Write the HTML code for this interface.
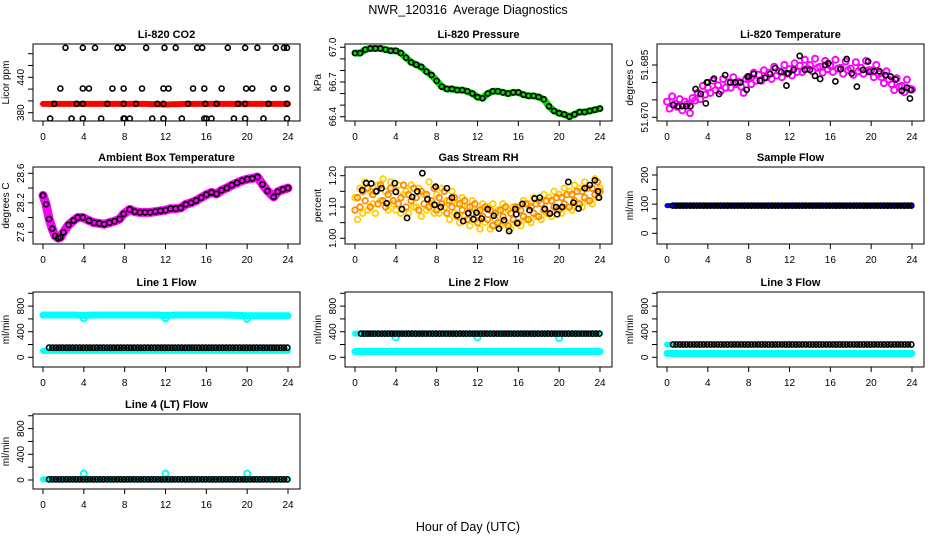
<!DOCTYPE html>
<html><head><meta charset="utf-8"><title>NWR_120316 Average Diagnostics</title>
<style>
html,body{margin:0;padding:0;background:#fff;}
svg{display:block;font-family:"Liberation Sans",Arial,sans-serif;}
</style></head>
<body>
<svg id="chart" width="936" height="540" viewBox="0 0 936 540" xmlns="http://www.w3.org/2000/svg">
<rect x="0" y="0" width="936" height="540" fill="#fff"/>
<text x="468" y="14" text-anchor="middle" font-size="12.5" style="white-space:pre">NWR_120316&#160; Average Diagnostics</text>
<text x="468" y="531" text-anchor="middle" font-size="12.5">Hour of Day (UTC)</text>
</svg>
<script>
// ---------- DATA ----------
const xTicks = [0,4,8,12,16,20,24];
// CO2
const co2Hours = [0.7,2.8,3.9,5.7,7.9,8.0,8.5,10.7,11.8,13.6,15.8,16.0,16.5,18.7,19.8,21.6,23.9,
  1.7,3.9,4.5,6.8,7.9,9.7,11.8,12.3,14.7,15.8,17.5,19.9,20.5,22.6,23.9,
  1.1,3.3,3.9,6.3,7.9,9.1,11.2,11.8,14.2,15.9,17.0,19.1,19.8,22.1,23.9,
  2.2,3.9,5.1,7.3,7.8,10.1,11.9,13.0,15.1,15.6,18.1,19.8,21.0,22.8,23.6,23.9];
const co2Vals = [370,370,370,370,370,370,370,370,370,370,370,370,370,370,370,370,370,
  421,421,421,421,421,421,421,421,421,421,421,421,421,421,421,
  395,395,395,395,395,395,395,395,395,395,395,395,395,395,395,
  490,490,490,490,490,490,490,490,490,490,490,490,490,490,490,490];
const co2RedHours = [0,2,4,6,8,10,12,14,16,18,20,22,24];
const co2RedVals = [395,395,395,395,395,395,394,395,395,395,395,395,395];
// Pressure
const presHours = [0,0.5,1,1.5,2,2.5,3,3.5,4,4.5,5,5.5,6,6.5,7,7.5,8,8.5,9,9.5,10,10.5,11,11.5,12,12.5,13,13.5,14,14.5,15,15.5,16,16.5,17,17.5,18,18.5,19,19.5,20,20.5,21,21.5,22,22.5,23,23.5,24];
const presVals = [66.95,66.95,66.98,66.99,66.99,66.99,66.98,66.97,66.97,66.95,66.91,66.87,66.85,66.83,66.79,66.76,66.71,66.66,66.64,66.64,66.63,66.63,66.62,66.60,66.57,66.56,66.60,66.62,66.62,66.61,66.60,66.61,66.61,66.59,66.58,66.58,66.57,66.55,66.49,66.45,66.43,66.42,66.40,66.42,66.44,66.44,66.45,66.46,66.47];
// Li-820 temperature
const tempCloudHours = [0,0.25,0.5,0.75,1,1.25,1.5,1.75,2,2.25,2.5,2.75,3,3.25,3.5,3.75,4,4.25,4.5,4.75,5,5.25,5.5,5.75,6,6.25,6.5,6.75,7,7.25,7.5,7.75,8,8.25,8.5,8.75,9,9.25,9.5,9.75,10,10.25,10.5,10.75,11,11.25,11.5,11.75,12,12.25,12.5,12.75,13,13.25,13.5,13.75,14,14.25,14.5,14.75,15,15.25,15.5,15.75,16,16.25,16.5,16.75,17,17.25,17.5,17.75,18,18.25,18.5,18.75,19,19.25,19.5,19.75,20,20.25,20.5,20.75,21,21.25,21.5,21.75,22,22.25,22.5,22.75,23,23.25,23.5,23.75,24];
const tempCloudVals = [51.6745,51.6725,51.6760,51.6738,51.6730,51.6752,51.6720,51.6745,51.6738,51.6712,51.6755,51.6748,
 51.6770,51.6752,51.6790,51.6765,51.6785,51.6770,51.6805,51.6778,51.6792,51.6775,51.6810,51.6785,
 51.6800,51.6785,51.6815,51.6795,51.6802,51.6788,51.6770,51.6810,51.6812,51.6795,51.6828,51.6805,
 51.6822,51.6805,51.6835,51.6815,51.6828,51.6810,51.6845,51.6820,51.6832,51.6815,51.6850,51.6825,
 51.6838,51.6820,51.6855,51.6830,51.6848,51.6830,51.6865,51.6840,51.6850,51.6832,51.6868,51.6842,
 51.6845,51.6828,51.6862,51.6838,51.6848,51.6830,51.6865,51.6840,51.6842,51.6825,51.6860,51.6835,
 51.6840,51.6822,51.6858,51.6832,51.6842,51.6825,51.6862,51.6835,51.6835,51.6815,51.6850,51.6825,
 51.6815,51.6798,51.6832,51.6808,51.6795,51.6778,51.6812,51.6788,51.6790,51.6772,51.6808,51.6782,51.6780];
const tempHours = [0.6,1.1,1.5,1.9,2.3,2.8,3.3,3.8,3.9,4.0,4.6,5.1,5.7,6.2,6.7,7.2,7.8,7.9,8.0,8.5,9.1,9.6,10.1,10.6,11.2,11.7,11.8,11.9,12.4,13.0,13.5,14.0,14.5,15.0,15.5,15.8,16.5,17.0,17.6,18.1,18.6,19.2,19.7,19.8,20.3,20.8,21.4,21.9,22.4,23.0,23.5,23.8,23.9];
const tempVals = [51.6735,51.6732,51.6732,51.6732,51.6732,51.6781,51.6767,51.6740,51.6800,51.6800,51.6811,51.6767,51.6821,51.6800,51.6800,51.6800,51.6779,51.6817,51.6817,51.6824,51.6805,51.6813,51.6824,51.6841,51.6830,51.6791,51.6826,51.6826,51.6836,51.6876,51.6836,51.6836,51.6819,51.6810,51.6850,51.6855,51.6803,51.6838,51.6867,51.6826,51.6788,51.6836,51.6860,51.6830,51.6832,51.6832,51.6821,51.6817,51.6808,51.6776,51.6785,51.6754,51.6778];
// Ambient box temperature
const ambHours = [0,0.3,0.6,0.9,1.2,1.5,1.7,2.0,2.5,3.0,3.4,3.9,4.5,5.0,5.5,6.0,6.5,7.0,7.5,7.9,8.5,9.0,9.5,10.0,10.5,11.0,11.5,12.0,12.5,13.0,13.5,14.0,14.5,15.0,15.5,16.0,16.5,17.0,17.5,18.0,18.5,19.0,19.5,20.0,20.5,21.0,21.5,22.0,22.6,23.0,23.5,24.0];
const ambVals = [28.30,28.18,27.98,27.85,27.75,27.72,27.73,27.80,27.90,27.96,28.00,28.00,27.96,27.93,27.92,27.91,27.93,27.95,27.98,28.05,28.11,28.08,28.07,28.07,28.07,28.08,28.09,28.10,28.12,28.12,28.13,28.18,28.20,28.23,28.27,28.31,28.34,28.32,28.37,28.40,28.44,28.47,28.50,28.52,28.53,28.55,28.45,28.36,28.28,28.35,28.38,28.40];
// Gas stream RH
const rhCloudVals = [1.09,1.13,1.10,1.15,1.12,1.16,1.10,1.14,1.15,1.11,1.17,1.12,1.10,1.14,1.16,1.12,1.15,1.11,1.13,1.17,1.10,1.14,1.12,1.16,1.13,1.09,1.15,1.11,1.14,1.10,1.12,1.16,1.09,1.13,1.11,1.15,1.08,1.12,1.10,1.13,1.07,1.11,1.09,1.12,1.06,1.10,1.08,1.11,1.05,1.09,1.07,1.10,1.06,1.09,1.04,1.08,1.05,1.09,1.07,1.10,1.04,1.08,1.06,1.10,1.05,1.09,1.07,1.11,1.06,1.10,1.08,1.11,1.07,1.11,1.09,1.12,1.08,1.12,1.10,1.13,1.09,1.13,1.11,1.14,1.10,1.14,1.12,1.15,1.11,1.15,1.13,1.16,1.12,1.16,1.14,1.18,1.15];
const rhCloudVals2 = [1.13,1.06,1.16,1.08,1.18,1.09,1.15,1.11,1.08,1.17,1.12,1.19,1.15,1.09,1.18,1.11,1.09,1.17,1.08,1.14,1.15,1.08,1.17,1.10,1.10,1.16,1.07,1.14,1.09,1.18,1.11,1.08,1.14,1.08,1.16,1.10,1.12,1.06,1.15,1.08,1.11,1.05,1.13,1.07,1.10,1.04,1.12,1.06,1.09,1.03,1.11,1.05,1.10,1.03,1.11,1.06,1.09,1.04,1.11,1.05,1.09,1.03,1.10,1.05,1.10,1.04,1.12,1.06,1.11,1.05,1.13,1.07,1.12,1.06,1.14,1.08,1.13,1.07,1.15,1.09,1.14,1.08,1.16,1.10,1.15,1.09,1.17,1.11,1.16,1.10,1.18,1.12,1.17,1.11,1.19,1.13,1.16];
const rhHours = [0.7,1.1,1.6,2.1,2.6,3.1,3.9,4.0,4.6,5.1,5.6,6.1,6.6,7.1,7.8,7.9,8.4,9.0,9.5,10.0,10.6,11.1,11.6,11.9,12.4,13.0,13.6,14.1,14.6,15.1,15.7,15.8,15.9,16.4,17.1,17.6,18.1,18.6,19.1,19.7,19.8,20.3,20.9,21.4,21.9,22.5,23.0,23.5,23.8,23.9];
const rhVals = [1.154,1.176,1.175,1.150,1.160,1.112,1.176,1.148,1.093,1.065,1.132,1.150,1.208,1.125,1.107,1.165,1.100,1.160,1.130,1.074,1.055,1.080,1.061,1.082,1.063,1.093,1.072,1.031,1.058,1.023,1.093,1.077,1.048,1.110,1.090,1.127,1.130,1.094,1.079,1.100,1.077,1.100,1.180,1.114,1.095,1.160,1.170,1.185,1.150,1.130];
// Flows (hourly values)
const flowHours = [0,1,2,3,4,5,6,7,8,9,10,11,12,13,14,15,16,17,18,19,20,21,22,23,24];
const sampleBlue  = [95,95,95,95,96,95,95,95,95,95,95,95,95,95,95,95,95,95,95,95,95,95,95,95,95];
const sampleBlack = [95,95,95,95,95,95,95,95,95,95,95,95,95,95,95,95,95,95,95,95,95,95,95,95,95];
const line1CyanHi = [660,660,660,660,655,660,660,660,660,660,660,660,655,660,660,660,660,660,660,655,650,650,650,650,650];
const line1CyanLo = [100,100,100,100,100,100,100,100,100,100,100,100,100,100,100,100,100,100,100,100,100,100,100,100,100];
const line1Black  = [150,150,150,150,150,150,150,150,150,150,150,150,150,150,150,150,150,150,150,150,150,150,150,150,150];
const line2CyanHi = [370,370,370,370,370,370,370,370,370,370,370,370,370,370,370,370,370,370,370,370,370,370,370,370,370];
const line2CyanLo = [90,90,90,90,90,90,90,90,90,90,90,90,90,90,90,90,90,90,90,90,90,90,90,90,90];
const line2Black  = [370,370,370,370,370,370,370,370,370,370,370,370,370,370,370,370,370,370,370,370,370,370,370,370,370];
const line3CyanLo = [60,60,60,60,60,60,60,60,60,60,60,60,60,60,60,60,60,60,60,60,60,60,60,60,60];
const line3CyanStartHours = [0,0.3];
const line3CyanStart = [200,200];
const line3Black  = [200,200,200,200,200,200,200,200,200,200,200,200,200,200,200,200,200,200,200,200,200,200,200,200,200];
const line4Cyan   = [10,10,10,10,10,10,10,10,10,10,10,10,10,10,10,10,10,10,10,10,10,10,10,10,10];
const line4Black  = [10,10,10,10,10,10,10,10,10,10,10,10,10,10,10,10,10,10,10,10,10,10,10,10,10];
const dipHours = [4,12,20];
const line1Dips = [610,610,600];
const line2Dips = [310,310,300];
const line4Spikes = [100,100,100];

// ---------- RENDER ----------
const NS = "http://www.w3.org/2000/svg";
const svg = document.getElementById('chart');
function mk(tag, attrs, parent){ const e=document.createElementNS(NS,tag); for(const k in attrs) e.setAttribute(k,attrs[k]); (parent||svg).appendChild(e); return e; }

function panel(o){
  const g = mk('g',{});
  
  
  const W=267, H=o.B-o.T;
  const xs = h => o.L + 10 + h*245/24;
  const ys = v => o.p0 + (v-o.v0)*(o.p1-o.p0)/(o.v1-o.v0);
  const t = mk('text',{x:o.L+W/2, y:o.T-6, 'text-anchor':'middle','font-size':11,'font-weight':'bold'},g);
  t.textContent = o.title;
  
  
  const yl = mk('text',{x:0,y:0,'text-anchor':'middle','font-size':10,transform:`translate(${o.L-24},${(o.T+o.B)/2}) rotate(-90)`},g);
  yl.textContent = o.ylab;
  
  
  xTicks.forEach(h=>{
    mk('line',{x1:xs(h),x2:xs(h),y1:o.B,y2:o.B+5,stroke:'#000'},g);
    const tx = mk('text',{x:xs(h),y:o.B+19,'text-anchor':'middle','font-size':10},g);
    tx.textContent = h;
    
    
  });
  o.ticks.forEach(v=>{
    mk('line',{x1:o.L-5,x2:o.L,y1:ys(v),y2:ys(v),stroke:'#000'},g);
  });
  o.labels.forEach(v=>{
    const ty = mk('text',{x:0,y:0,'text-anchor':'middle','font-size':10,transform:`translate(${o.L-9},${ys(v)}) rotate(-90)`},g);
    ty.textContent = o.fmt ? o.fmt(v) : v;
    
    
  });
  const clip = 'c'+o.name;
  const cp = mk('clipPath',{id:clip},g); mk('rect',{x:o.L,y:o.T,width:W,height:H},cp);
  const plot = mk('g',{'clip-path':`url(#${clip})`},g);
  
  
  o.draw(plot, xs, ys);
  const box = mk('rect',{x:o.L,y:o.T,width:W,height:H,fill:'none',stroke:'#000'},g);
  
  
}
function dots(p, xs, ys, hours, vals, color, r, sw, name){
  hours.forEach((h,i)=>{
    const c = mk('circle',{cx:xs(h),cy:ys(vals[i]),r:r,fill:'none',stroke:color,'stroke-width':sw},p);
    
    
  });
}
function band(p, xs, ys, hours, vals, color, w, name){
  const pts = hours.map((h,i)=>xs(h)+','+ys(vals[i])).join(' ');
  const l = mk('polyline',{points:pts,fill:'none',stroke:color,'stroke-width':w,'stroke-linejoin':'round','stroke-linecap':'round'},p);
  
  
}
function flowDots(p, xs, ys, vals, color, name){
  flowHours.forEach((h,i)=>{
    [0.6,0.93,1.27].forEach(off=>{
      const hh = h - 1 + off;
      if (hh < 0.5 || hh > 24) return;
      const c = mk('circle',{cx:xs(hh),cy:ys(vals[i]),r:2.6,fill:'none',stroke:color,'stroke-width':1.6},p);
      
      
    });
  });
}

const cols=[33,345,657];
const rows=[[44,121],[167,244],[292,367],[414,489]];
const flowTicks=[0,200,400,600,800,1000], flowLabels=[0,400,800];

panel({name:'co2-panel',title:'Li-820 CO2',ylab:'Licor ppm',L:cols[0],T:rows[0][0],B:rows[0][1],
  v0:380,p0:112.7,v1:440,p1:77.3,ticks:[380,400,420,440,460,480],labels:[380,440],
  draw:(p,xs,ys)=>{ band(p,xs,ys,co2RedHours,co2RedVals,'#ff0000',6,'co2-red-series');
    dots(p,xs,ys,co2Hours,co2Vals,'#000',2.5,1.6,'co2-black-point'); }});
panel({name:'pressure-panel',title:'Li-820 Pressure',ylab:'kPa',L:cols[1],T:rows[0][0],B:rows[0][1],
  v0:66.4,p0:116.7,v1:67.0,p1:47.3,ticks:[66.4,66.5,66.6,66.7,66.8,66.9,67.0],labels:[66.4,66.7,67.0],fmt:v=>v.toFixed(1),
  draw:(p,xs,ys)=>{ band(p,xs,ys,presHours,presVals,'#00dd00',7,'pressure-green-series');
    dots(p,xs,ys,presHours,presVals,'#000',2.5,1.6,'pressure-black-point'); }});
panel({name:'li820-temp-panel',title:'Li-820 Temperature',ylab:'degrees C',L:cols[2],T:rows[0][0],B:rows[0][1],
  v0:51.670,p0:117.3,v1:51.685,p1:65,ticks:[51.670,51.675,51.680,51.685],labels:[51.670,51.685],fmt:v=>v.toFixed(3),
  draw:(p,xs,ys)=>{ dots(p,xs,ys,tempCloudHours,tempCloudVals,'#ff00ff',3,2,'temp-magenta-point');
    dots(p,xs,ys,tempHours,tempVals,'#000',2.6,1.6,'temp-black-point'); }});
panel({name:'ambient-panel',title:'Ambient Box Temperature',ylab:'degrees C',L:cols[0],T:rows[1][0],B:rows[1][1],
  v0:27.8,p0:232.3,v1:28.6,p1:173.3,ticks:[27.8,28.0,28.2,28.4,28.6],labels:[27.8,28.2,28.6],fmt:v=>v.toFixed(1),
  draw:(p,xs,ys)=>{ band(p,xs,ys,ambHours,ambVals,'#ff00ff',9,'ambient-magenta-series');
    dots(p,xs,ys,ambHours,ambVals,'#000',2.6,1.6,'ambient-black-point'); }});
panel({name:'rh-panel',title:'Gas Stream RH',ylab:'percent',L:cols[1],T:rows[1][0],B:rows[1][1],
  v0:1.00,p0:238.3,v1:1.20,p1:175.7,ticks:[1.00,1.05,1.10,1.15,1.20],labels:[1.00,1.10,1.20],fmt:v=>v.toFixed(2),
  draw:(p,xs,ys)=>{ dots(p,xs,ys,tempCloudHours,rhCloudVals2,'#ffd000',2.8,1.8,'rh-yellow-point');
    dots(p,xs,ys,tempCloudHours,rhCloudVals,'#ff8c00',2.8,1.8,'rh-orange-point');
    dots(p,xs,ys,rhHours,rhVals,'#000',2.6,1.6,'rh-black-point'); }});
panel({name:'sample-flow-panel',title:'Sample Flow',ylab:'ml/min',L:cols[2],T:rows[1][0],B:rows[1][1],
  v0:0,p0:233.3,v1:200,p1:175,ticks:[0,50,100,150,200],labels:[0,100,200],
  draw:(p,xs,ys)=>{ band(p,xs,ys,flowHours,sampleBlue,'#0000ff',5,'sample-blue-series');
    flowDots(p,xs,ys,sampleBlack,'#000','sample-black-point'); }});
panel({name:'line1-panel',title:'Line 1 Flow',ylab:'ml/min',L:cols[0],T:rows[2][0],B:rows[2][1],
  v0:0,p0:357.3,v1:800,p1:306.1,ticks:flowTicks,labels:flowLabels,
  draw:(p,xs,ys)=>{ band(p,xs,ys,flowHours,line1CyanHi,'#00ffff',7,'line1-cyan-high');
    band(p,xs,ys,flowHours,line1CyanLo,'#00ffff',6,'line1-cyan-low');
    dots(p,xs,ys,dipHours,line1Dips,'#00ffff',3,2,'line1-cyan-dip');
    flowDots(p,xs,ys,line1Black,'#000','line1-black-point'); }});
panel({name:'line2-panel',title:'Line 2 Flow',ylab:'ml/min',L:cols[1],T:rows[2][0],B:rows[2][1],
  v0:0,p0:357.3,v1:800,p1:306.1,ticks:flowTicks,labels:flowLabels,
  draw:(p,xs,ys)=>{ band(p,xs,ys,flowHours,line2CyanHi,'#00ffff',6,'line2-cyan-high');
    band(p,xs,ys,flowHours,line2CyanLo,'#00ffff',7,'line2-cyan-low');
    dots(p,xs,ys,dipHours,line2Dips,'#00ffff',3,2,'line2-cyan-dip');
    flowDots(p,xs,ys,line2Black,'#000','line2-black-point'); }});
panel({name:'line3-panel',title:'Line 3 Flow',ylab:'ml/min',L:cols[2],T:rows[2][0],B:rows[2][1],
  v0:0,p0:357.3,v1:800,p1:306.1,ticks:flowTicks,labels:flowLabels,
  draw:(p,xs,ys)=>{ band(p,xs,ys,flowHours,line3CyanLo,'#00ffff',7,'line3-cyan-low');
    band(p,xs,ys,line3CyanStartHours,line3CyanStart,'#00ffff',6,'line3-cyan-start');
    flowDots(p,xs,ys,line3Black,'#000','line3-black-point'); }});
panel({name:'line4-panel',title:'Line 4 (LT) Flow',ylab:'ml/min',L:cols[0],T:rows[3][0],B:rows[3][1],
  v0:0,p0:480,v1:800,p1:428.6,ticks:flowTicks,labels:flowLabels,
  draw:(p,xs,ys)=>{ band(p,xs,ys,flowHours,line4Cyan,'#00ffff',6,'line4-cyan-series');
    dots(p,xs,ys,dipHours,line4Spikes,'#00ffff',3,2,'line4-cyan-spike');
    flowDots(p,xs,ys,line4Black,'#000','line4-black-point'); }});
</script>
</body></html>
